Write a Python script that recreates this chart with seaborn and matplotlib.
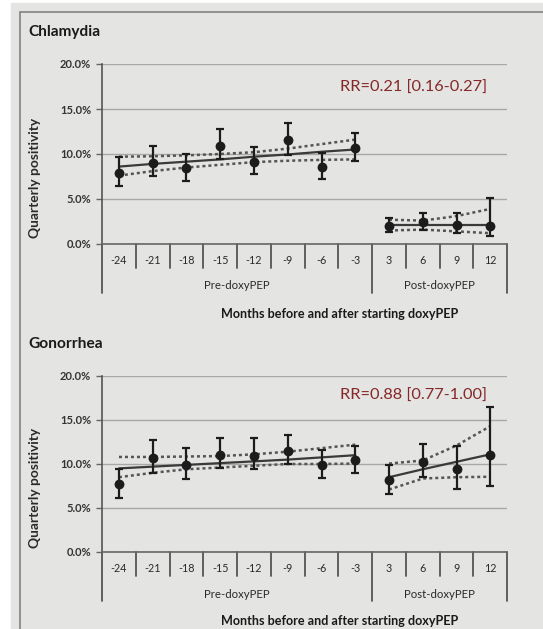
import numpy as np
import pandas as pd
import matplotlib
matplotlib.use("Agg")
import matplotlib.pyplot as plt
import seaborn as sns
from matplotlib.patches import Rectangle
from matplotlib.lines import Line2D

# months relative to the start of doxyPEP
months = [-24, -21, -18, -15, -12, -9, -6, -3, 3, 6, 9, 12]
groups = ["Pre-doxyPEP"] * 8 + ["Post-doxyPEP"] * 4

# Chlamydia quarterly positivity (%)
ct_val = [7.9, 9.0, 8.4, 10.9, 9.1, 11.6, 8.6, 10.7, 2.0, 2.4, 2.1, 2.0]
ct_lo = [6.4, 7.5, 7.0, 9.4, 7.8, 9.9, 7.2, 9.2, 1.3, 1.6, 1.2, 0.85]
ct_hi = [9.7, 10.85, 10.0, 12.8, 10.8, 13.4, 10.1, 12.3, 2.9, 3.4, 3.4, 5.1]
ct_fit = [8.6, 8.9, 9.15, 9.4, 9.7, 9.95, 10.25, 10.5, 2.07, 2.07, 2.07, 2.07]
ct_fit_lo = [7.6, 8.1, 8.5, 8.8, 9.1, 9.25, 9.35, 9.4, 1.5, 1.6, 1.4, 1.2]
ct_fit_hi = [9.7, 9.75, 9.85, 10.0, 10.2, 10.6, 11.1, 11.6, 2.7, 2.6, 3.1, 3.9]

# Gonorrhea quarterly positivity (%)
ng_val = [7.7, 10.7, 9.9, 11.0, 10.9, 11.5, 9.9, 10.5, 8.2, 10.2, 9.4, 11.0]
ng_lo = [6.1, 9.0, 8.3, 9.5, 9.4, 10.0, 8.4, 9.0, 6.6, 8.5, 7.2, 7.5]
ng_hi = [9.4, 12.7, 11.8, 13.0, 12.9, 13.3, 11.6, 12.1, 9.9, 12.3, 12.1, 16.5]
ng_fit = [9.5, 9.7, 9.9, 10.1, 10.3, 10.5, 10.75, 11.0, 8.5, 9.4, 10.25, 11.1]
ng_fit_lo = [8.5, 9.0, 9.4, 9.6, 9.8, 10.0, 10.0, 10.05, 7.1, 8.35, 8.5, 8.55]
ng_fit_hi = [10.8, 10.8, 10.85, 10.9, 11.1, 11.4, 11.8, 12.2, 10.05, 10.4, 12.1, 14.3]

panels = [
    ("Chlamydia", "RR=0.21 [0.16-0.27]", ct_val, ct_lo, ct_hi, ct_fit, ct_fit_lo, ct_fit_hi),
    ("Gonorrhea", "RR=0.88 [0.77-1.00]", ng_val, ng_lo, ng_hi, ng_fit, ng_fit_lo, ng_fit_hi),
]

sns.set_style("white")
plt.rcParams["font.family"] = ["Lato", "DejaVu Sans"]

W, H = 543, 629
fig = plt.figure(figsize=(W / 100, H / 100), dpi=100, facecolor="white")
renderer = fig.canvas.get_renderer()


def fit(txt, target, vertical=False):
    # scale the font so the text spans about as many pixels as in the picture
    bb = txt.get_window_extent(renderer)
    size = bb.height if vertical else bb.width
    txt.set_fontsize(txt.get_fontsize() * target / size)


# photographed slide background and its frame
fig.patches.append(Rectangle((11 / W, 0), 1, 1 - 3 / H, transform=fig.transFigure,
                             color="#e4e4e2", zorder=-10))
fig.lines.append(Line2D([20 / W, 20 / W], [0, 1 - 12 / H], transform=fig.transFigure,
                        color="#8a8a8a", lw=1.3, zorder=-5))
fig.lines.append(Line2D([20 / W, 1], [1 - 12 / H, 1 - 12 / H], transform=fig.transFigure,
                        color="#8a8a8a", lw=1.3, zorder=-5))

ax_boxes = [(0.188, 1 - 244 / H, 0.746, 180 / H), (0.188, 1 - 552 / H, 0.746, 176 / H)]
title_y = [1 - 32 / H, 1 - 344 / H]
title_w = [72, 74]
xtitle_y = [1 - 314 / H, 1 - 621 / H]
rr_y = [0.87, 0.89]

pos = np.arange(len(months))
pre = np.array([g == "Pre-doxyPEP" for g in groups])
dark = "#1c1c1c"

for k, (name, rr, val, lo, hi, fit_, flo, fhi) in enumerate(panels):
    ax = fig.add_axes(ax_boxes[k])
    ax.set_facecolor("none")
    df = pd.DataFrame({"pos": pos, "val": val, "lo": lo, "hi": hi,
                       "fit": fit_, "flo": flo, "fhi": fhi, "grp": groups})

    # trend lines and confidence bands per period
    for mask in [pre, ~pre]:
        d = df[mask]
        sns.lineplot(data=d, x="pos", y="fit", ax=ax, color="#3a3a3a", lw=1.6,
                     estimator=None, zorder=3)
        for col in ["flo", "fhi"]:
            sns.lineplot(data=d, x="pos", y=col, ax=ax, color="#555555", lw=1.8,
                         linestyle=(0, (1.2, 1.2)), estimator=None, zorder=3)

    ax.errorbar(df["pos"], df["val"],
                yerr=[df["val"] - df["lo"], df["hi"] - df["val"]],
                fmt="none", ecolor=dark, elinewidth=1.6, capsize=3, capthick=1.6, zorder=4)
    sns.scatterplot(data=df, x="pos", y="val", ax=ax, color=dark, s=50,
                    edgecolor=dark, linewidth=0, zorder=5)

    ax.set_xlim(-0.5, len(months) - 0.5)
    ax.set_ylim(0, 20)
    ax.set_yticks([0, 5, 10, 15, 20])
    labs = ax.set_yticklabels([f"{t:.1f}%" for t in [0, 5, 10, 15, 20]],
                              fontsize=8.5, fontweight="bold", color="#333333")
    bb = labs[-1].get_window_extent(renderer)
    for t in labs:
        t.set_fontsize(8.5 * 31 / bb.width)
    ax.yaxis.grid(True, color="#a8a8a8", lw=1)
    ax.set_axisbelow(True)
    ax.tick_params(axis="y", length=4, width=1, color="#666666", pad=4, left=True)
    ax.set_xticks([])
    ax.set_xlabel("")
    ax.set_ylabel("Quarterly positivity", fontsize=8.5, fontweight="bold", color="#2a2a2a")
    ax.yaxis.set_label_coords(-0.151, 0.366)
    fit(ax.yaxis.label, 120, vertical=True)
    for s in ["top", "right"]:
        ax.spines[s].set_visible(False)
    ax.spines["left"].set_color("#555555")
    ax.spines["bottom"].set_color("#666666")
    ax.spines["left"].set_linewidth(1.2)
    ax.spines["bottom"].set_linewidth(1.2)

    # multi-level category axis
    tr = ax.get_xaxis_transform()
    hpx = ax_boxes[k][3] * H
    short, long_ = -24 / hpx, -49 / hpx
    for i in range(len(months) + 1):
        x = i - 0.5
        is_long = i in (0, len(months)) or (0 < i < len(months) and groups[i] != groups[i - 1])
        ax.plot([x, x], [0, long_ if is_long else short], transform=tr, color="#555555",
                lw=1.3, clip_on=False)
    num_size = None
    for i, m in enumerate(months):
        t = ax.text(i, -17 / hpx, str(m), transform=tr, ha="center", va="center",
                    fontsize=9, color="#2a2a2a")
        if num_size is None:
            fit(t, 16.5)
            num_size = t.get_fontsize()
        t.set_fontsize(num_size)
    grp_size = None
    for g in ["Pre-doxyPEP", "Post-doxyPEP"]:
        idx = [i for i, gg in enumerate(groups) if gg == g]
        t = ax.text(np.mean(idx), -42 / hpx, g, transform=tr, ha="center", va="center",
                    fontsize=9, color="#2a2a2a")
        if grp_size is None:
            fit(t, 66)
            grp_size = t.get_fontsize()
        t.set_fontsize(grp_size)

    t = ax.text(0.768, rr_y[k], rr, transform=ax.transAxes, ha="center",
                va="center", fontsize=12.5, color="#862828")
    fit(t, 147)

    t = fig.text(28 / W, title_y[k], name, fontsize=11, fontweight="bold", color="#1a1a1a",
                 va="center", ha="left")
    fit(t, title_w[k])
    t = fig.text(0.626, xtitle_y[k], "Months before and after starting doxyPEP", fontsize=9,
                 fontweight="bold", color="#1a1a1a", ha="center", va="center")
    fit(t, 239)

fig.savefig("out.png", dpi=100, facecolor=fig.get_facecolor())
